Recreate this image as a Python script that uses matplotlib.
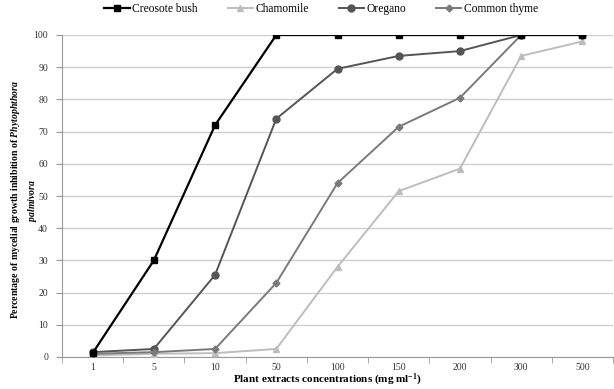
import matplotlib
matplotlib.use("Agg")
import matplotlib.pyplot as plt

plt.rcParams['font.family'] = ['Liberation Serif', 'DejaVu Serif']
plt.rcParams['mathtext.fontset'] = 'custom'
plt.rcParams['mathtext.rm'] = 'Liberation Serif:bold'
plt.rcParams['mathtext.bf'] = 'Liberation Serif:bold'
plt.rcParams['mathtext.it'] = 'Liberation Serif:italic:bold'

concentrations = ['1', '5', '10', '50', '100', '150', '200', '300', '500']
creosote = [1.2, 30, 72, 100, 100, 100, 100, 100, 100]
chamomile = [0.5, 1.0, 1.2, 2.5, 28, 51.5, 58.5, 93.5, 98]
oregano = [1.5, 2.5, 25.5, 74, 89.5, 93.5, 95, 100, 100]
thyme = [1.0, 1.5, 2.5, 23, 54, 71.5, 80.5, 100, 100]
yticks = list(range(0, 101, 10))

fig = plt.figure(figsize=(6.14, 3.89), dpi=100)
ax = fig.add_axes([62/614, 1 - 357/389, (613-62)/614, (357-35)/389])

x = list(range(len(concentrations)))
ax.plot(x, creosote, color='#000000', marker='s', ms=5, lw=1.6, label='Creosote bush', zorder=5)
ax.plot(x, chamomile, color='#bdbdbd', marker='^', ms=5, lw=1.4, label='Chamomile', zorder=3)
ax.plot(x, oregano, color='#555555', marker='o', ms=5, lw=1.4, label='Oregano', zorder=4)
ax.plot(x, thyme, color='#7a7a7a', marker='D', ms=3.5, lw=1.4, label='Common thyme', zorder=4)

ax.set_xlim(-0.5, len(concentrations) - 0.5)
ax.set_ylim(0, 100)
ax.set_yticks(yticks)
ax.set_xticks(x)
ax.set_xticklabels(concentrations)
ax.set_xticks([i + 0.5 for i in range(-1, len(concentrations))], minor=True)
ax.tick_params(axis='x', which='major', length=0, labelsize=7, pad=4, colors='#333333')
ax.tick_params(axis='x', which='minor', length=4, color='#999999', direction='out')
ax.tick_params(axis='y', length=4, color='#999999', labelsize=7, colors='#333333', pad=6)
ax.grid(axis='y', color='#cccccc', lw=0.9)
ax.set_axisbelow(True)
for s in ['top', 'right']:
    ax.spines[s].set_visible(False)
for s in ['left', 'bottom']:
    ax.spines[s].set_color('#999999')
    ax.spines[s].set_linewidth(0.8)

fig.text(327/614, 1 - 380/389, r'Plant extracts concentrations (mg ml$^{-1}$)',
         fontsize=8, fontweight='bold', ha='center', va='center')
fig.text(24/614, 1 - 200/389,
         'Percentage of mycelial growth inhibition of $Phytophthora$\n$palmivora$',
         fontsize=7, fontweight='bold', rotation=90, ha='center', va='center',
         linespacing=1.4, multialignment='center')

fig.legend(*ax.get_legend_handles_labels(), loc='center', bbox_to_anchor=(0.523, 1 - 9/389),
           ncol=4, frameon=False, fontsize=8.3, handlelength=2.2, columnspacing=2.6,
           handletextpad=0.2, borderaxespad=0)

fig.savefig('out.png', dpi=100)
